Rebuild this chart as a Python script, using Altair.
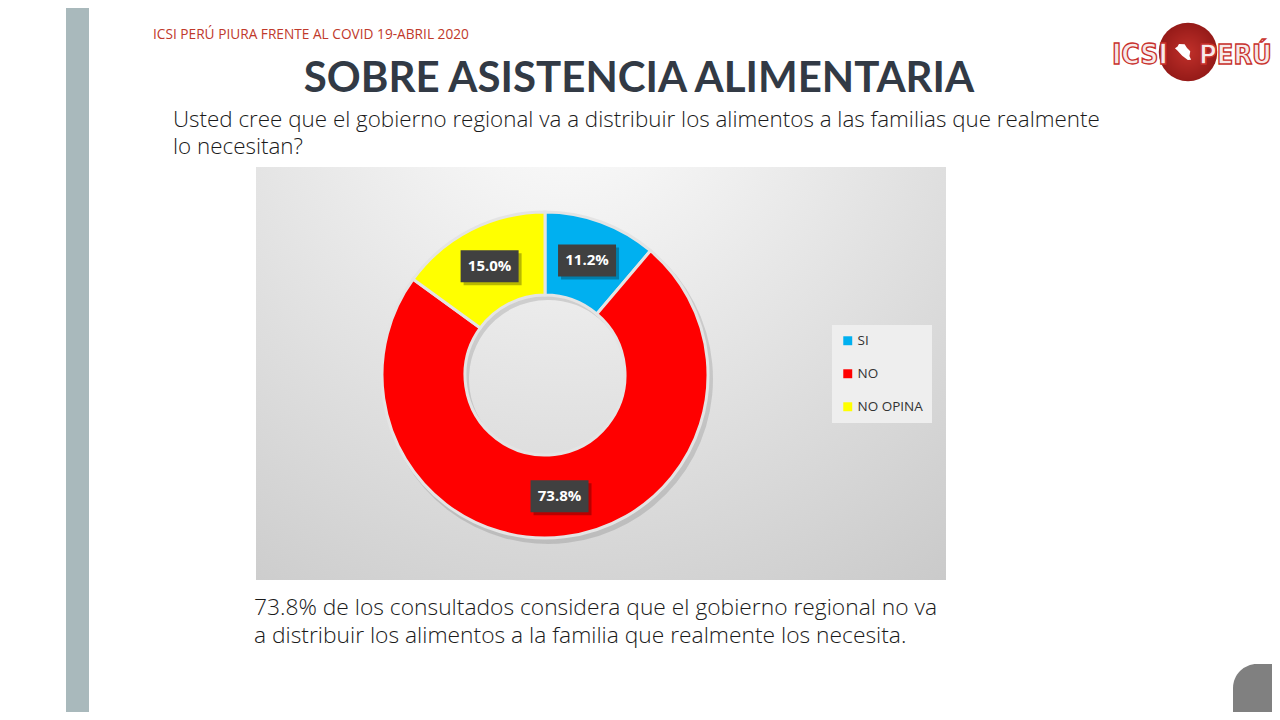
import altair as alt
import pandas as pd

# ---------------- data ----------------
categories = ["SI", "NO", "NO OPINA"]
values = [11.2, 73.8, 15.0]
labels = ["11.2%", "73.8%", "15.0%"]
colors = ["#00b0f0", "#ff0000", "#ffff00"]

header = "ICSI PERÚ PIURA FRENTE AL COVID 19-ABRIL 2020"
title = "SOBRE ASISTENCIA ALIMENTARIA"
question = [
    "Usted cree que el gobierno regional va a distribuir los alimentos a las familias que realmente",
    "lo necesitan?",
]
conclusion = [
    "73.8% de los consultados considera que el gobierno regional no va",
    "a distribuir los alimentos a la familia que realmente los necesita.",
]
logo_left = "ICSI"
logo_right = "PERÚ"

df = pd.DataFrame({"cat": categories, "value": values, "label": labels, "order": list(range(len(categories)))})

# ---------------- layout ----------------
W, H = 1264, 704
OFF = 8


def px(v):
    return v - OFF


CX, CY = 545, 375
R_OUT, R_IN, R_LAB = 163, 80, 122
BW, BH = 29, 16

xs = alt.Scale(domain=[OFF, W + OFF], nice=False, zero=False)
ys = alt.Scale(domain=[OFF, H + OFF], nice=False, zero=False, reverse=True)

one = pd.DataFrame({"k": [0]})


def rect(x1, x2, y1, y2, **kw):
    return alt.Chart(one).mark_rect(**kw).encode(
        x=alt.value(px(x1)), x2=alt.value(px(x2)), y=alt.value(px(y1)), y2=alt.value(px(y2))
    )


def text(t, x, y, **kw):
    kw.setdefault("baseline", "alphabetic")
    return alt.Chart(one).mark_text(**kw).encode(
        x=alt.value(px(x)), y=alt.value(px(y)), text=alt.value(t)
    )


side_bar = rect(66, 89, 0, 730, fill="#a9b9bc")
corner = rect(1233, 1320, 664, 760, fill="#808080", cornerRadius=24)

chart_bg = rect(
    256, 946, 167, 580,
    fill=alt.Gradient(
        gradient="radial",
        stops=[alt.GradientStop(color="#ffffff", offset=0), alt.GradientStop(color="#c6c6c6", offset=1)],
        x1=0.45, y1=0.05, r1=0, x2=0.45, y2=0.05, r2=1.0,
    ),
)

theta = alt.Theta("value:Q", stack=True)
order = alt.Order("order:Q")

arc_shadow = alt.Chart(df).mark_arc(outerRadius=R_OUT + 2, innerRadius=R_IN - 1, opacity=0.12).encode(
    theta=theta, order=order, color=alt.value("#000000"),
    x=alt.value(px(CX) + 3), y=alt.value(px(CY) + 4),
)

arcs = alt.Chart(df).mark_arc(outerRadius=R_OUT, innerRadius=R_IN, stroke="#e4e4e4", strokeWidth=3).encode(
    theta=theta,
    order=order,
    color=alt.Color(
        "cat:N",
        scale=alt.Scale(domain=categories, range=colors),
        legend=alt.Legend(
            title=None, orient="none", legendX=px(832), legendY=px(325),
            fillColor="#eeeeee", padding=9, symbolType="square", symbolSize=80,
            symbolStrokeWidth=0, labelFontSize=13.5, labelFont="Open Sans", labelColor="#333333",
            rowPadding=18, labelOffset=3, labelLimit=200,
        ),
    ),
    x=alt.value(px(CX)), y=alt.value(px(CY)),
)

lab_base = (
    alt.Chart(df)
    .transform_window(cum="sum(value)", sort=[alt.SortField("order")], frame=[None, 0])
    .transform_joinaggregate(total="sum(value)")
    .transform_calculate(mid="(datum.cum - datum.value/2) / datum.total * 2 * PI")
    .transform_calculate(lx=f"{CX} + {R_LAB} * sin(datum.mid)", ly=f"{CY} - {R_LAB} * cos(datum.mid)")
    .transform_calculate(
        bx1=f"datum.lx - {BW}", bx2=f"datum.lx + {BW}", by1=f"datum.ly - {BH}", by2=f"datum.ly + {BH}",
        sx1=f"datum.lx - {BW} + 3", sx2=f"datum.lx + {BW} + 3", sy1=f"datum.ly - {BH} + 3", sy2=f"datum.ly + {BH} + 3",
    )
)

lab_shadow = lab_base.mark_rect(fill="#000000", opacity=0.28).encode(
    x=alt.X("sx1:Q", scale=xs, axis=None), x2="sx2:Q",
    y=alt.Y("sy1:Q", scale=ys, axis=None), y2="sy2:Q",
)
lab_box = lab_base.mark_rect(fill="#404040").encode(
    x=alt.X("bx1:Q", scale=xs, axis=None), x2="bx2:Q",
    y=alt.Y("by1:Q", scale=ys, axis=None), y2="by2:Q",
)
lab_text = lab_base.mark_text(font="Open Sans", fontSize=15, fontWeight="bold", color="#ffffff", baseline="middle").encode(
    x=alt.X("lx:Q", scale=xs, axis=None), y=alt.Y("ly:Q", scale=ys, axis=None), text="label:N"
)

header_t = text(header, 153, 39, font="Open Sans", fontSize=13.7, color="#c0392b", align="left")
title_t = text(title, 639, 92, font="Lato", fontSize=42, fontWeight="bold", color="#323a45", align="center")
body = dict(font="Open Sans", fontWeight=300, color="#1a1a1a", align="left")
question_t = [text(line, 173, 127 + i * 26.5, fontSize=22.4, **body) for i, line in enumerate(question)]
concl_t = [text(line, 254, 615 + i * 28, fontSize=22.8, **body) for i, line in enumerate(conclusion)]

logo_circle = alt.Chart(one).mark_circle(size=3.1416 * 33 * 33, opacity=1,
                                         fill=alt.Gradient(gradient="radial",
                                                           stops=[alt.GradientStop(color="#c0302a", offset=0),
                                                                  alt.GradientStop(color="#951a18", offset=1)],
                                                           x1=0.5, y1=0.5, r1=0, x2=0.5, y2=0.5, r2=0.5)).encode(
    x=alt.value(px(1188)), y=alt.value(px(52))
)
peru = alt.Chart(one).mark_point(
    shape="M-0.5,-1 L0.2,-0.95 L0.5,-0.5 L0.9,-0.1 L0.8,0.5 L1,0.95 L0.6,1 L-0.1,0.45 L-0.7,-0.2 L-1,-0.45 L-0.7,-0.65 Z",
    size=260, filled=True, fill="#ffffff", opacity=1, strokeWidth=0,
).encode(x=alt.value(px(1183)), y=alt.value(px(52)))
logo_l = text(logo_left, 1112, 64, font="DejaVu Sans Condensed", fontSize=28, fontWeight="bold",
              fill="#f7e9e9", stroke="#c8312c", strokeWidth=1.3, align="left")
logo_r = text(logo_right, 1199, 64, font="DejaVu Sans Condensed", fontSize=27, fontWeight="bold",
              fill="#f7e9e9", stroke="#c8312c", strokeWidth=1.3, align="left")

chart = alt.layer(
    side_bar, corner, chart_bg, arc_shadow, arcs, lab_shadow, lab_box, lab_text,
    header_t, title_t, *question_t, *concl_t, logo_circle, peru, logo_l, logo_r,
).resolve_scale(theta="shared").properties(
    width=W, height=H, padding=0, autosize=alt.AutoSizeParams(type="none"), background="#ffffff"
).configure_view(stroke=None)

chart.save("out.html", embed_options={"renderer": "svg", "actions": False})
